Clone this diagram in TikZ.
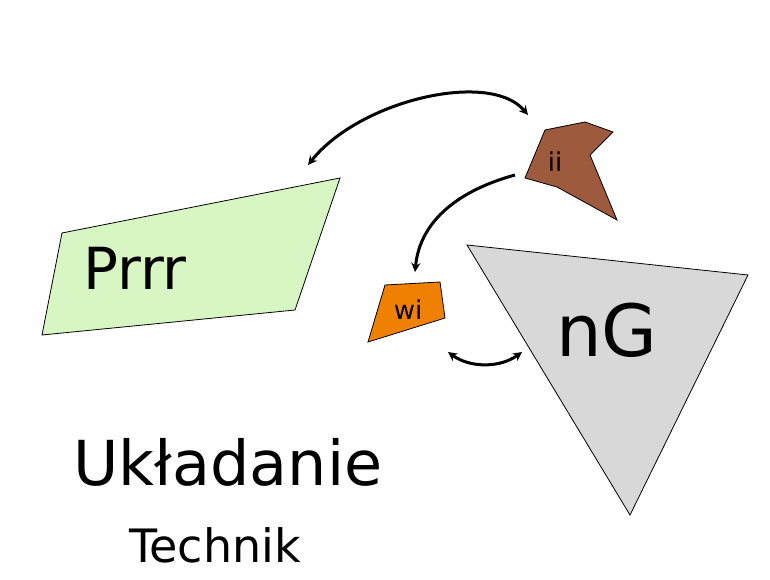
\documentclass[tikz,border=0pt]{standalone}
\usepackage{fontspec}
\setmainfont{DejaVu Sans}
\usetikzlibrary{positioning}
\definecolor{leafgreen}{RGB}{216,245,196}
\definecolor{barkbrown}{RGB}{158,90,60}
\definecolor{juiceorange}{RGB}{240,128,0}
\definecolor{stonegray}{RGB}{216,216,216}
\tikzset{
  piece/.style={draw=black, line width=0.8pt},
  link/.style={line width=3pt, <->, >=stealth},
  tag/.style={font=\fontsize{26}{26}\selectfont}
}
\begin{document}
\begin{tikzpicture}[x=1pt, y=-1pt]
\useasboundingbox (0,0) rectangle (770,580);

% shapes
\fill[piece, fill=leafgreen] (62,233) -- (340,178) -- (295,310) -- (42,335) -- cycle;
\fill[piece, fill=barkbrown] (545,130) -- (585,122) -- (613,132) -- (590,155) -- (617,220) -- (557,187) -- (525,178) -- cycle;
\fill[piece, fill=juiceorange] (385,285) -- (440,282) -- (445,318) -- (368,342) -- cycle;
\fill[piece, fill=stonegray] (467,245) -- (748,275) -- (630,515) -- cycle;

% labels
\node[font=\fontsize{58}{58}\selectfont] (prrr) at (135,268) {Prrr};
\node[tag] (ii) at (555,162) {ii};
\node[tag] (wi) at (408,310) {wi};
\node[font=\fontsize{72}{72}\selectfont] (ng) at (607,330) {nG};
\node[font=\fontsize{62}{62}\selectfont] (title) at (228,462) {Układanie};
\node[font=\fontsize{46}{46}\selectfont] (sub) at (215,545) {Technik};

% connectors
\coordinate (prrr-end) at (308,165);
\coordinate (ii-top) at (528,115);
\coordinate (ii-side) at (515,175);
\coordinate (wi-top) at (415,272);
\coordinate (wi-right) at (448,352);
\coordinate (ng-left) at (522,352);

\draw[link] (prrr-end) .. controls (360,100) and (490,70) .. (ii-top);
\draw[link, <-] (wi-top) .. controls (420,220) and (460,190) .. (ii-side);
\draw[link] (wi-right) .. controls (470,368) and (500,368) .. (ng-left);

\end{tikzpicture}
\end{document}
